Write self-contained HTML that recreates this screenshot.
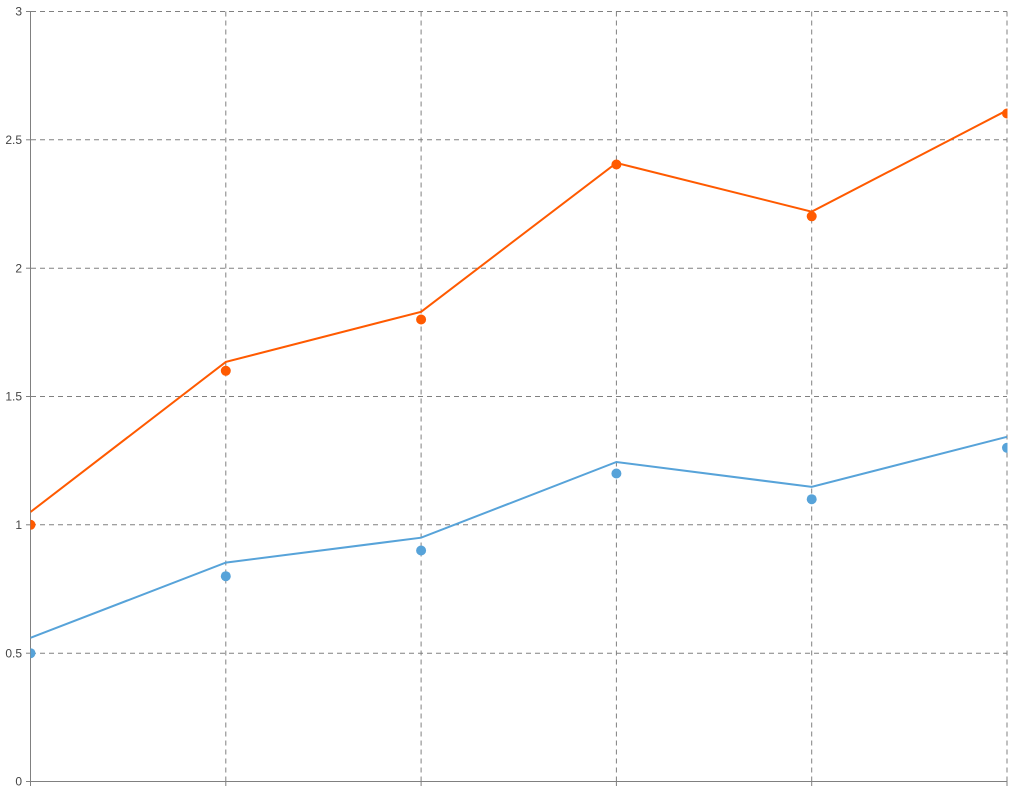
<!DOCTYPE html>
<html><head><meta charset="utf-8"><style>
html,body{margin:0;padding:0;background:#fff;}
svg{display:block;}
text{font-family:"Liberation Sans","DejaVu Sans",sans-serif;font-size:12px;fill:#444;}
</style></head><body>
<svg width="1014" height="794" viewBox="0 0 1014 794" xmlns="http://www.w3.org/2000/svg">
<defs><clipPath id="c"><rect x="30.5" y="0" width="977" height="782"/></clipPath></defs>
<g stroke="#808080" stroke-width="1" stroke-dasharray="5,4" fill="none">
<line x1="31" y1="11.5" x2="1007" y2="11.5"/>
<line x1="31" y1="139.8" x2="1007" y2="139.8"/>
<line x1="31" y1="268.2" x2="1007" y2="268.2"/>
<line x1="31" y1="396.5" x2="1007" y2="396.5"/>
<line x1="31" y1="524.8" x2="1007" y2="524.8"/>
<line x1="31" y1="653.2" x2="1007" y2="653.2"/>
<line x1="225.8" y1="11.5" x2="225.8" y2="781.5"/>
<line x1="421.1" y1="11.5" x2="421.1" y2="781.5"/>
<line x1="616.4" y1="11.5" x2="616.4" y2="781.5"/>
<line x1="811.7" y1="11.5" x2="811.7" y2="781.5"/>
<line x1="1007" y1="11.5" x2="1007" y2="781.5"/>
</g>
<g stroke="#808080" stroke-width="1" fill="none">
<line x1="30.5" y1="11" x2="30.5" y2="782"/>
<line x1="30.5" y1="781.5" x2="1007.5" y2="781.5"/>
<line x1="26" y1="11.5" x2="31" y2="11.5"/>
<line x1="26" y1="139.8" x2="31" y2="139.8"/>
<line x1="26" y1="268.2" x2="31" y2="268.2"/>
<line x1="26" y1="396.5" x2="31" y2="396.5"/>
<line x1="26" y1="524.8" x2="31" y2="524.8"/>
<line x1="26" y1="653.2" x2="31" y2="653.2"/>
<line x1="26" y1="781.5" x2="31" y2="781.5"/>
<line x1="30.5" y1="781" x2="30.5" y2="786"/>
<line x1="225.8" y1="781" x2="225.8" y2="786"/>
<line x1="421.1" y1="781" x2="421.1" y2="786"/>
<line x1="616.4" y1="781" x2="616.4" y2="786"/>
<line x1="811.7" y1="781" x2="811.7" y2="786"/>
<line x1="1007" y1="781" x2="1007" y2="786"/>
</g>
<g text-anchor="end">
<text x="22" y="15.5">3</text>
<text x="22" y="144">2.5</text>
<text x="22" y="272.5">2</text>
<text x="22" y="400.5">1.5</text>
<text x="22" y="529">1</text>
<text x="22" y="657.5">0.5</text>
<text x="22" y="785.5">0</text>
</g>
<g clip-path="url(#c)">
<polyline fill="none" stroke="#ff5a00" stroke-width="2" points="30.5,512 225.8,361.9 421.1,311.8 616.4,162.9 811.7,211.7 1007,110.3"/>
<polyline fill="none" stroke="#57a3d9" stroke-width="2" points="30.5,637.8 225.8,562.6 421.1,537.7 616.4,462 811.7,486.9 1007,436.8"/>
<g fill="#ff5a00">
<circle cx="30.5" cy="524.8" r="5"/>
<circle cx="225.8" cy="370.8" r="5"/>
<circle cx="421.1" cy="319.5" r="5"/>
<circle cx="616.4" cy="164.5" r="5"/>
<circle cx="811.7" cy="216.3" r="5"/>
<circle cx="1007" cy="113.5" r="5"/>
</g>
<g fill="#57a3d9">
<circle cx="30.5" cy="653.2" r="5"/>
<circle cx="225.8" cy="576.2" r="5"/>
<circle cx="421.1" cy="550.5" r="5"/>
<circle cx="616.4" cy="473.5" r="5"/>
<circle cx="811.7" cy="499.2" r="5"/>
<circle cx="1007" cy="447.8" r="5"/>
</g>
</g>
</svg>
</body></html>
